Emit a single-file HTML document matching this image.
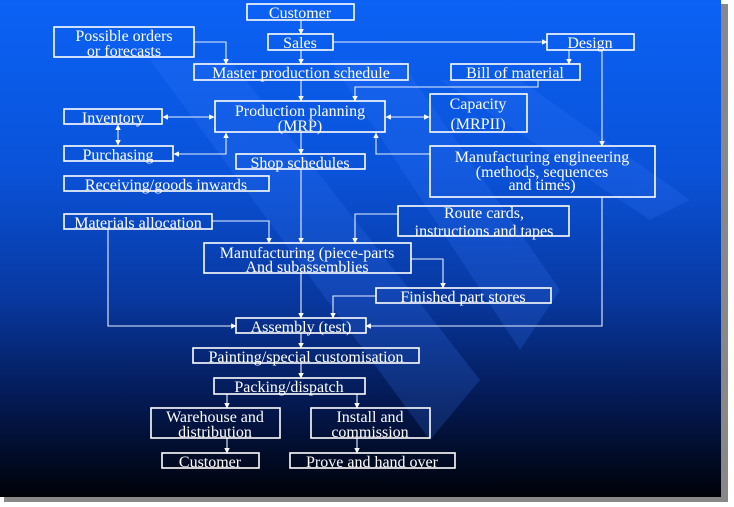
<!DOCTYPE html>
<html><head><meta charset="utf-8"><style>
html,body{margin:0;padding:0;background:#fff;width:734px;height:507px;overflow:hidden}
svg{display:block}
text{font-family:"Liberation Serif",serif;font-size:16px;fill:#fff;text-anchor:middle}
.b{fill:none;stroke:#fff;stroke-width:1.6}
.l{fill:none;stroke:#e8f0ff;stroke-width:1.1}
</style></head><body>
<svg width="734" height="507" viewBox="0 0 734 507" xmlns="http://www.w3.org/2000/svg">
<defs>
<linearGradient id="bg" x1="0" y1="0" x2="0" y2="1">
<stop offset="0" stop-color="#0b62f5"/>
<stop offset="0.35" stop-color="#0a52d8"/>
<stop offset="0.6" stop-color="#0838a0"/>
<stop offset="0.8" stop-color="#041a55"/>
<stop offset="1" stop-color="#000208"/>
</linearGradient>
<marker id="a" viewBox="0 0 10 10" refX="9" refY="5" markerWidth="5" markerHeight="5" orient="auto-start-reverse"><path d="M0,0L10,5L0,10z" fill="#fff"/></marker>
</defs>
<rect x="4" y="4" width="724" height="498" fill="#888"/>
<rect x="0" y="0" width="721" height="497" fill="url(#bg)"/>
<g fill="#3a7cff" opacity="0.2">
<polygon points="150,60 230,60 480,380 430,440"/>
<polygon points="330,60 400,60 560,290 520,350"/>
<polygon points="440,80 520,80 690,200 650,220"/>
</g>
<g class="l">
<line x1="301" y1="20" x2="301" y2="34" marker-end="url(#a)"/>
<line x1="301" y1="50" x2="301" y2="64" marker-end="url(#a)"/>
<polyline points="194,42 226,42 226,64" marker-end="url(#a)"/>
<line x1="333" y1="42" x2="547" y2="42" marker-end="url(#a)"/>
<line x1="569" y1="50" x2="569" y2="64" marker-end="url(#a)"/>
<line x1="602" y1="50" x2="602" y2="146" marker-end="url(#a)"/>
<polyline points="538,80 538,87 355,87 355,101" marker-end="url(#a)"/>
<line x1="301" y1="80" x2="301" y2="101" marker-end="url(#a)"/>
<line x1="163" y1="117" x2="214" y2="117" marker-start="url(#a)" marker-end="url(#a)"/>
<line x1="386" y1="117" x2="429" y2="117" marker-start="url(#a)" marker-end="url(#a)"/>
<line x1="118" y1="125" x2="118" y2="145" marker-start="url(#a)" marker-end="url(#a)"/>
<polyline points="174,154 226,154 226,133" marker-start="url(#a)" marker-end="url(#a)"/>
<polyline points="430,154 376,154 376,133" marker-end="url(#a)"/>
<line x1="301" y1="132" x2="301" y2="154" marker-end="url(#a)"/>
<line x1="301" y1="169" x2="301" y2="243" marker-end="url(#a)"/>
<polyline points="212,221 269,221 269,243" marker-end="url(#a)"/>
<polyline points="398,214 355,214 355,243" marker-end="url(#a)"/>
<polyline points="411,259 443,259 443,288" marker-end="url(#a)"/>
<line x1="301" y1="273" x2="301" y2="318" marker-end="url(#a)"/>
<polyline points="376,296 333,296 333,318" marker-end="url(#a)"/>
<polyline points="108,229 108,326 236,326" marker-end="url(#a)"/>
<polyline points="602,197 602,326 366,326" marker-end="url(#a)"/>
<line x1="301" y1="333" x2="301" y2="348" marker-end="url(#a)"/>
<line x1="301" y1="363" x2="301" y2="378" marker-end="url(#a)"/>
<line x1="227" y1="394" x2="227" y2="408" marker-end="url(#a)"/>
<line x1="357" y1="394" x2="357" y2="408" marker-end="url(#a)"/>
<line x1="227" y1="438" x2="227" y2="453" marker-end="url(#a)"/>
<line x1="357" y1="438" x2="357" y2="453" marker-end="url(#a)"/>
</g>
<g class="b">
<rect x="247" y="4" width="107" height="16"/>
<rect x="54" y="27" width="140" height="30"/>
<rect x="268" y="34" width="65" height="16"/>
<rect x="547" y="34" width="87" height="16"/>
<rect x="194" y="64" width="214" height="16"/>
<rect x="451" y="64" width="129" height="16"/>
<rect x="215" y="101" width="170" height="31"/>
<rect x="430" y="94" width="97" height="38"/>
<rect x="64" y="109" width="98" height="15"/>
<rect x="64" y="146" width="109" height="15"/>
<rect x="236" y="154" width="129" height="15"/>
<rect x="430" y="146" width="225" height="51"/>
<rect x="64" y="176" width="205" height="15"/>
<rect x="64" y="214" width="148" height="15"/>
<rect x="398" y="206" width="171" height="30"/>
<rect x="204" y="243" width="207" height="30"/>
<rect x="376" y="288" width="175" height="15"/>
<rect x="236" y="318" width="130" height="15"/>
<rect x="193" y="348" width="226" height="15"/>
<rect x="214" y="378" width="151" height="16"/>
<rect x="151" y="408" width="129" height="30"/>
<rect x="311" y="408" width="119" height="30"/>
<rect x="162" y="453" width="97" height="15"/>
<rect x="290" y="453" width="165" height="15"/>
</g>
<text x="300" y="18">Customer</text>
<text x="124" y="41">Possible orders</text>
<text x="124" y="56">or forecasts</text>
<text x="300" y="48">Sales</text>
<text x="590" y="48">Design</text>
<text x="301" y="78">Master production schedule</text>
<text x="515" y="78">Bill of material</text>
<text x="300" y="116">Production planning</text>
<text x="300" y="131">(MRP)</text>
<text x="478" y="109">Capacity</text>
<text x="478" y="129">(MRPII)</text>
<text x="113" y="123">Inventory</text>
<text x="118" y="160">Purchasing</text>
<text x="300" y="168">Shop schedules</text>
<text x="542" y="162">Manufacturing engineering</text>
<text x="542" y="177">(methods, sequences</text>
<text x="542" y="190">and times)</text>
<text x="166" y="190">Receiving/goods inwards</text>
<text x="138" y="228">Materials allocation</text>
<text x="484" y="218">Route cards,</text>
<text x="484" y="236">instructions and tapes</text>
<text x="307" y="258">Manufacturing (piece-parts</text>
<text x="307" y="272">And subassemblies</text>
<text x="463" y="302">Finished part stores</text>
<text x="301" y="332">Assembly (test)</text>
<text x="306" y="362">Painting/special customisation</text>
<text x="289" y="392">Packing/dispatch</text>
<text x="215" y="422">Warehouse and</text>
<text x="215" y="437">distribution</text>
<text x="370" y="422">Install and</text>
<text x="370" y="437">commission</text>
<text x="210" y="467">Customer</text>
<text x="372" y="467">Prove and hand over</text>
</svg>
</body></html>
